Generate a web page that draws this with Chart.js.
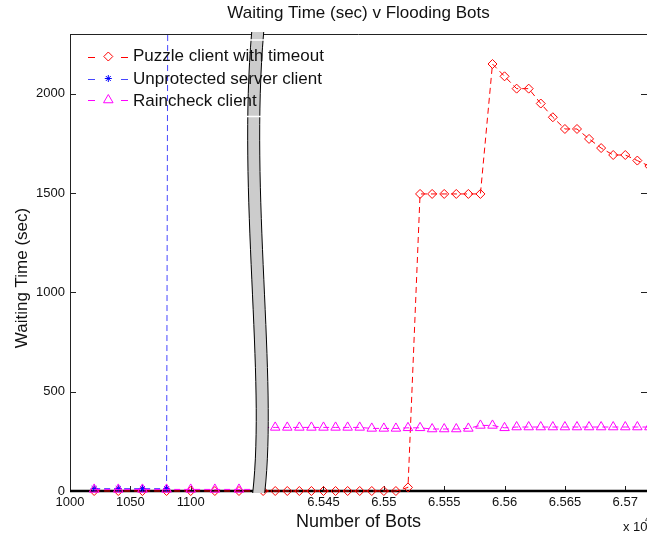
<!DOCTYPE html>
<html>
<head>
<meta charset="utf-8">
<script src="https://cdn.jsdelivr.net/npm/chart.js@4/dist/chart.umd.min.js"></script>
<style>
html,body{margin:0;padding:0;background:#fff;overflow:hidden;}
#wrap{width:647px;height:535px;position:relative;}
canvas{display:block;}
</style>
</head>
<body>
<div id="wrap"><canvas id="c" width="647" height="535"></canvas></div>
<script>
// ---------------- data ----------------
const TITLE = 'Waiting Time (sec) v Flooding Bots';
const X_TITLE = 'Number of Bots';
const Y_TITLE = 'Waiting Time (sec)';
const SERIES_NAMES = ['Puzzle client with timeout', 'Unprotected server client', 'Raincheck client'];

// left part of the broken x axis
const leftBots = [1020, 1040, 1060, 1080, 1100, 1120, 1140, 1160];
const puzzleLeft = [0, 0, 0, 0, 0, 0, 0, 0];
const unprotectedLeft = [12, 12, 12, 12, 50000, null, null, null];
const raincheckLeft = [8, 8, 8, 8, 8, 8, 8, 8];

// right part of the broken x axis
const rightBots = [65400, 65410, 65420, 65430, 65440, 65450, 65460, 65470, 65480, 65490,
                   65500, 65510, 65520, 65530, 65540, 65550, 65560, 65570, 65580, 65590,
                   65600, 65610, 65620, 65630, 65640, 65650, 65660, 65670, 65680, 65690,
                   65700, 65710, 65720];
const puzzleRight = [0, 0, 0, 0, 0, 0, 0, 0, 0, 0,
                     0, 0, 18, 1495, 1495, 1495, 1495, 1495, 1495, 2149,
                     2087, 2025, 2025, 1950, 1881, 1822, 1822, 1772, 1726, 1691,
                     1691, 1663, 1635];
const raincheckRight = [320, 320, 320, 320, 320, 320, 320, 320, 320, 315,
                        315, 315, 318, 318, 312, 312, 312, 315, 330, 330,
                        318, 322, 322, 322, 322, 322, 322, 322, 322, 322,
                        322, 322, 322];

// ticks
const xTicksLeft = [1000, 1050, 1100];
const xTicksRight = [65450, 65500, 65550, 65600, 65650, 65700];
const yTicks = [0, 500, 1000, 1500, 2000];

// axis ranges / break
const X_MIN = 1000, X_MAX = 65718;
const Y_MIN = 0, Y_MAX = 2300;
const LEFT_END = 1151;       // last visible bots value of left part
const RIGHT_START = 65400;   // first bots value of right part
const GAP = 9;               // axis units hidden by the break
const OFFSET = RIGHT_START - (LEFT_END + GAP);
function toAxis(b){ return b >= 10000 ? b - OFFSET : b; }
function fromAxis(v){ return v > LEFT_END + GAP/2 ? v + OFFSET : v; }

// ---------------- styles ----------------
const FONT = '"Liberation Sans", Arial, Helvetica, sans-serif';
const RED = '#ff0000', BLUE = '#0000ff', MAG = '#ff00ff';
const BLUE_LINE = '#4646ff';
const DASH = [6, 4];

function pts(xs, ys){
  const out = [];
  xs.forEach((b, i) => { if (ys[i] !== null && ys[i] !== undefined) out.push({x: toAxis(b), y: ys[i]}); });
  return out;
}
function ds(label, data, color, lineColor, style, radius, part, order){
  return {
    label, data, part, order,
    borderColor: lineColor, backgroundColor: 'rgba(0,0,0,0)',
    borderWidth: 1, borderDash: DASH,
    pointStyle: style, pointRadius: radius, pointHoverRadius: radius,
    pointBorderColor: color, pointBackgroundColor: 'rgba(0,0,0,0)', pointBorderWidth: 1,
    tension: 0, fill: false,
    clip: {left: 10, right: 10, top: 0, bottom: 10}
  };
}

const datasets = [
  ds(SERIES_NAMES[2], pts(leftBots, raincheckLeft), MAG, MAG, 'triangle', 5.5, 'left', 0),
  ds(SERIES_NAMES[2], pts(rightBots, raincheckRight), MAG, MAG, 'triangle', 5.5, 'right', 0),
  ds(SERIES_NAMES[1], pts(leftBots, unprotectedLeft), BLUE, BLUE_LINE, 'star', 3.5, 'left', 1),
  ds(SERIES_NAMES[0], pts(leftBots, puzzleLeft), RED, RED, 'rectRot', 4.5, 'left', 2),
  ds(SERIES_NAMES[0], pts(rightBots, puzzleRight), RED, RED, 'rectRot', 4.5, 'right', 2)
];

// ---------------- plugins ----------------
const segmentClip = {
  id: 'segmentClip',
  beforeDatasetDraw(chart, args){
    const d = chart.data.datasets[args.index];
    const ctx = chart.ctx, xs = chart.scales.x;
    const mid = xs.getPixelForValue(LEFT_END + GAP/2);
    const edge = xs.getPixelForValue(LEFT_END);
    ctx.save();
    ctx.beginPath();
    if (d.part === 'left') ctx.rect(0, 0, edge, chart.height);
    else ctx.rect(mid, 0, chart.width - mid, chart.height);
    ctx.clip();
  },
  afterDatasetDraw(chart){ chart.ctx.restore(); }
};

const frame = {
  id: 'frame',
  beforeDatasetsDraw(chart){
    const {ctx, chartArea: ca, scales: {x, y}} = chart;
    ctx.save();
    ctx.setLineDash([]);
    ctx.strokeStyle = '#222';
    ctx.lineWidth = 1;
    ctx.beginPath();
    ctx.moveTo(ca.left, ca.top + 0.5); ctx.lineTo(ca.right, ca.top + 0.5);
    ctx.moveTo(ca.left + 0.5, ca.top); ctx.lineTo(ca.left + 0.5, ca.bottom);
    // inward ticks
    x.ticks.forEach(t => {
      const px = Math.round(x.getPixelForValue(t.value)) + 0.5;
      ctx.moveTo(px, ca.bottom); ctx.lineTo(px, ca.bottom - 5);
    });
    y.ticks.forEach(t => {
      if (t.value === 0) return;
      const py = Math.round(y.getPixelForValue(t.value)) + 0.5;
      ctx.moveTo(ca.left, py); ctx.lineTo(ca.left + 6, py);
      ctx.moveTo(ca.right, py); ctx.lineTo(ca.right - 6, py);
    });
    ctx.stroke();
    ctx.strokeStyle = '#000';
    ctx.lineWidth = 2.5;
    ctx.beginPath();
    ctx.moveTo(ca.left, ca.bottom); ctx.lineTo(ca.right, ca.bottom);
    ctx.stroke();
    ctx.restore();
  }
};

const band = {
  id: 'band',
  afterDatasetsDraw(chart){
    const {ctx, chartArea: ca, scales: {x}} = chart;
    const cx = x.getPixelForValue(LEFT_END + GAP/2);
    const y0 = ca.top - 2, y1 = ca.bottom + 2, h = y1 - y0;
    const half = 6;
    const c1x = -14, c1y = y0 + h * 0.35, c2x = 14, c2y = y0 + h * 0.75, ex = 1;
    ctx.save();
    ctx.setLineDash([]);
    ctx.beginPath();
    ctx.moveTo(cx - half, y0);
    ctx.bezierCurveTo(cx - half + c1x, c1y, cx - half + c2x, c2y, cx - half + ex, y1);
    ctx.lineTo(cx + half + ex, y1);
    ctx.bezierCurveTo(cx + half + c2x, c2y, cx + half + c1x, c1y, cx + half, y0);
    ctx.closePath();
    ctx.fillStyle = '#cccccc';
    ctx.fill();
    ctx.strokeStyle = '#000';
    ctx.lineWidth = 1;
    ctx.beginPath();
    ctx.moveTo(cx - half, y0);
    ctx.bezierCurveTo(cx - half + c1x, c1y, cx - half + c2x, c2y, cx - half + ex, y1);
    ctx.moveTo(cx + half + ex, y1);
    ctx.bezierCurveTo(cx + half + c2x, c2y, cx + half + c1x, c1y, cx + half, y0);
    ctx.stroke();
    // legend box edges crossing the break
    ctx.strokeStyle = '#fff';
    ctx.lineWidth = 1.5;
    ctx.beginPath();
    ctx.moveTo(cx - 16, 40); ctx.lineTo(cx + 16, 40);
    ctx.moveTo(cx - 16, 116.5); ctx.lineTo(cx + 16, 116.5);
    ctx.stroke();
    ctx.restore();
  }
};

function marker(ctx, style, x, y, r){
  ctx.beginPath();
  if (style === 'rectRot'){
    ctx.moveTo(x - r, y); ctx.lineTo(x, y - r); ctx.lineTo(x + r, y); ctx.lineTo(x, y + r); ctx.closePath();
  } else if (style === 'triangle'){
    const s = Math.sin(Math.PI/3) * r;
    ctx.moveTo(x, y - r); ctx.lineTo(x + s, y + r/2); ctx.lineTo(x - s, y + r/2); ctx.closePath();
  } else if (style === 'star'){
    ctx.moveTo(x - r, y); ctx.lineTo(x + r, y);
    ctx.moveTo(x, y - r); ctx.lineTo(x, y + r);
    const d = r * Math.SQRT1_2;
    ctx.moveTo(x - d, y - d); ctx.lineTo(x + d, y + d);
    ctx.moveTo(x - d, y + d); ctx.lineTo(x + d, y - d);
  }
  ctx.stroke();
}

const texts = {
  id: 'texts',
  afterDraw(chart){
    const {ctx, chartArea: ca} = chart;
    const cx = (ca.left + ca.right) / 2;
    ctx.save();
    ctx.setLineDash([]);
    ctx.fillStyle = '#111';
    ctx.textAlign = 'center';
    ctx.textBaseline = 'middle';
    ctx.font = '17px ' + FONT;
    ctx.fillText(TITLE, cx, 13);
    ctx.font = '18px ' + FONT;
    ctx.fillText(X_TITLE, cx, 522);
    ctx.save();
    ctx.translate(22, 278);
    ctx.rotate(-Math.PI / 2);
    ctx.font = '17px ' + FONT;
    ctx.fillText(Y_TITLE, 0, 0);
    ctx.restore();
    // exponent
    ctx.textAlign = 'left';
    ctx.font = '13px ' + FONT;
    ctx.fillText('x 10', 623, 527);
    ctx.font = '9px ' + FONT;
    ctx.fillText('4', 645, 520);
    // legend
    const entries = [
      {name: SERIES_NAMES[0], color: RED, line: RED, style: 'rectRot', r: 4.5, ty: 56.5, my: 56.5},
      {name: SERIES_NAMES[1], color: BLUE, line: BLUE_LINE, style: 'star', r: 3.5, ty: 79.5, my: 78.5},
      {name: SERIES_NAMES[2], color: MAG, line: MAG, style: 'triangle', r: 5.5, ty: 101.5, my: 100}
    ];
    ctx.font = '17px ' + FONT;
    entries.forEach(e => {
      ctx.lineWidth = 1;
      const ly = Math.round(e.my) + 0.5;
      ctx.strokeStyle = e.line;
      ctx.beginPath();
      ctx.moveTo(88, ly); ctx.lineTo(95, ly);
      ctx.moveTo(121, ly); ctx.lineTo(128, ly);
      ctx.stroke();
      ctx.strokeStyle = e.color;
      marker(ctx, e.style, 108.3, e.my, e.r);
      ctx.fillStyle = '#111';
      ctx.fillText(e.name, 133, e.ty);
    });
    ctx.restore();
  }
};

// ---------------- chart ----------------
new Chart(document.getElementById('c'), {
  type: 'line',
  data: {datasets},
  plugins: [segmentClip, frame, band, texts],
  options: {
    responsive: false,
    animation: false,
    devicePixelRatio: 1,
    layout: {autoPadding: false, padding: {top: 34, left: 0, right: 0, bottom: 0}},
    plugins: {legend: {display: false}, title: {display: false}, tooltip: {enabled: false}},
    events: [],
    scales: {
      x: {
        type: 'linear',
        min: toAxis(X_MIN), max: toAxis(X_MAX),
        afterFit(s){ s.height = 44; s.paddingLeft = 0; s.paddingRight = 0; },
        afterBuildTicks(s){ s.ticks = xTicksLeft.concat(xTicksRight).map(b => ({value: toAxis(b)})); },
        ticks: {
          autoSkip: false, maxRotation: 0, minRotation: 0, padding: 4,
          color: '#111', font: {family: FONT, size: 13},
          callback(v){ const b = fromAxis(v); return b >= 10000 ? String(b / 1e4) : String(b); }
        },
        grid: {display: false, drawTicks: false},
        border: {display: false}
      },
      y: {
        type: 'linear',
        min: Y_MIN, max: Y_MAX,
        afterFit(s){ s.width = 70; s.paddingTop = 0; s.paddingBottom = 0; },
        afterBuildTicks(s){ s.ticks = yTicks.map(v => ({value: v})); },
        ticks: {padding: 5, color: '#111', font: {family: FONT, size: 13}, callback(v){ return String(v); }},
        grid: {display: false, drawTicks: false},
        border: {display: false}
      }
    }
  }
});
</script>
</body>
</html>
